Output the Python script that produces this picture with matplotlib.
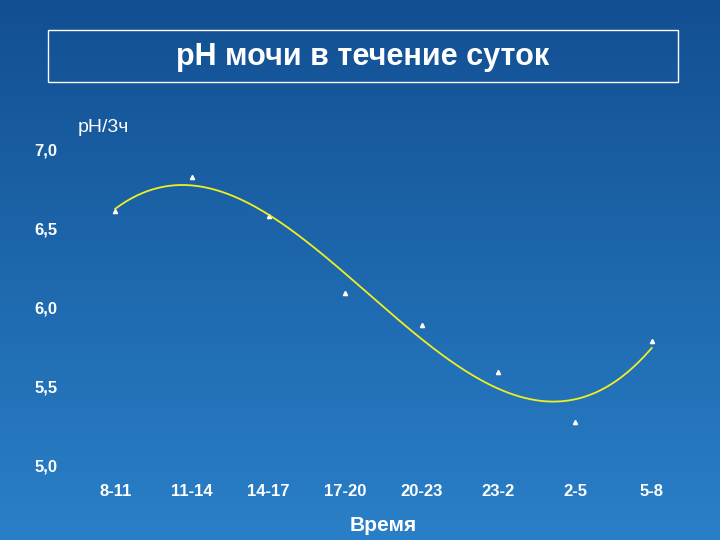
import numpy as np
import matplotlib
matplotlib.use("Agg")
import matplotlib.pyplot as plt
from matplotlib.patches import Rectangle

plt.rcParams['font.family'] = ['Liberation Sans', 'DejaVu Sans']

periods = ["8-11", "11-14", "14-17", "17-20", "20-23", "23-2", "2-5", "5-8"]
ph = [6.61, 6.83, 6.58, 6.09, 5.89, 5.59, 5.27, 5.79]

fig = plt.figure(figsize=(7.2, 5.4), dpi=100)

# background gradient
bg = fig.add_axes([0, 0, 1, 1])
grad = np.linspace(0, 1, 256).reshape(-1, 1)
top = np.array([0x12, 0x4f, 0x92]) / 255
bot = np.array([0x2a, 0x80, 0xc8]) / 255
img = top + grad[..., None] * (bot - top)
bg.imshow(img, aspect='auto', extent=[0, 1, 0, 1])
bg.set_axis_off()
bg.add_patch(Rectangle((48 / 720, 1 - 82 / 540), 630 / 720, 52 / 540,
                       fill=False, edgecolor='white', lw=1))
bg.text(363 / 720, 1 - 57 / 540, "рН мочи в течение суток", color='white',
        fontsize=22, fontweight='bold', ha='center', va='center')

ax = fig.add_axes([77 / 720, 75 / 540, 613 / 720, 315 / 540])
ax.patch.set_alpha(0)
x = np.arange(len(periods))
ax.plot(x, ph, linestyle='none', marker='^', color='white', markersize=3)
coef = np.polyfit(x, ph, 3)
xs = np.linspace(0, len(periods) - 1, 200)
ax.plot(xs, np.polyval(coef, xs), color='#f0f020', lw=1.3)

ax.set_xlim(-0.5, len(periods) - 0.5)
ax.set_ylim(5.0, 7.0)
ax.set_yticks([5.0, 5.5, 6.0, 6.5, 7.0])
ax.set_yticklabels(["5,0", "5,5", "6,0", "6,5", "7,0"])
ax.set_xticks(x)
ax.set_xticklabels(periods)
for s in ax.spines.values():
    s.set_visible(False)
ax.tick_params(length=0, colors='white', labelsize=12, pad=14)
for lab in ax.get_xticklabels() + ax.get_yticklabels():
    lab.set_fontweight('bold')
ax.set_xlabel("Время", color='white', fontsize=15, fontweight='bold', labelpad=12)
fig.text(78 / 720, 1 - 128 / 540, "рН/3ч", color='white', fontsize=14,
         ha='left', va='center')

fig.savefig("out.png", dpi=100)
